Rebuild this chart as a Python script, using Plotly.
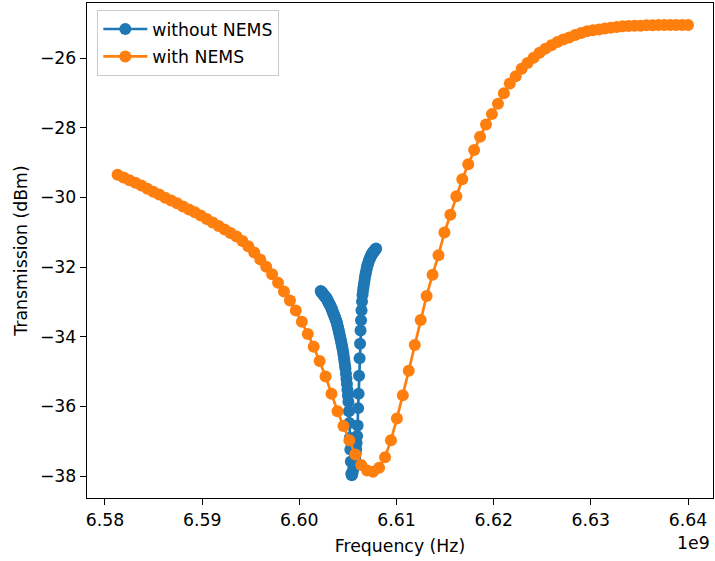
import plotly.graph_objects as go

# Frequencies in units of 1e9 Hz (GHz)
freq_without = [
    6.60220, 6.60225, 6.60230, 6.60235, 6.60240, 6.60245, 6.60250, 6.60255, 6.60260, 6.60265,
    6.60270, 6.60275, 6.60280, 6.60285, 6.60290, 6.60295, 6.60300, 6.60305, 6.60310, 6.60315,
    6.60320, 6.60325, 6.60330, 6.60335, 6.60340, 6.60345, 6.60350, 6.60355, 6.60360, 6.60365,
    6.60370, 6.60375, 6.60380, 6.60385, 6.60390, 6.60395, 6.60400, 6.60405, 6.60410, 6.60415,
    6.60420, 6.60425, 6.60430, 6.60435, 6.60440, 6.60445, 6.60450, 6.60455, 6.60460, 6.60465,
    6.60470, 6.60475, 6.60480, 6.60485, 6.60490, 6.60495, 6.60500, 6.60505, 6.60510, 6.60515,
    6.60520, 6.60525, 6.60530, 6.60535, 6.60540, 6.60545, 6.60550, 6.60555, 6.60560, 6.60565,
    6.60570, 6.60575, 6.60580, 6.60585, 6.60590, 6.60595, 6.60600, 6.60605, 6.60610, 6.60615,
    6.60620, 6.60625, 6.60630, 6.60635, 6.60640, 6.60645, 6.60650, 6.60655, 6.60660, 6.60665,
    6.60670, 6.60675, 6.60680, 6.60685, 6.60690, 6.60695, 6.60700, 6.60705, 6.60710, 6.60715,
    6.60720, 6.60725, 6.60730, 6.60735, 6.60740, 6.60745, 6.60750, 6.60755, 6.60760, 6.60765,
    6.60770, 6.60775, 6.60780, 6.60785, 6.60790,
]
trans_without = [
    -32.69, -32.71, -32.73, -32.74, -32.76, -32.78, -32.80, -32.81, -32.83, -32.85,
    -32.86, -32.88, -32.90, -32.92, -32.95, -32.98, -33.01, -33.04, -33.06, -33.09,
    -33.12, -33.15, -33.18, -33.21, -33.25, -33.29, -33.33, -33.36, -33.40, -33.43,
    -33.47, -33.51, -33.55, -33.59, -33.65, -33.71, -33.76, -33.82, -33.88, -33.94,
    -34.01, -34.08, -34.13, -34.21, -34.28, -34.35, -34.43, -34.52, -34.62, -34.72,
    -34.82, -34.91, -35.06, -35.21, -35.36, -35.52, -35.69, -35.87, -36.14, -36.48,
    -36.90, -37.24, -37.58, -37.93, -37.98, -37.94, -37.87, -37.80, -37.73, -37.66,
    -37.58, -37.47, -37.35, -37.23, -37.05, -36.85, -36.55, -36.05, -35.64, -35.12,
    -34.62, -34.20, -33.82, -33.53, -33.24, -32.99, -32.80, -32.69, -32.59, -32.49,
    -32.40, -32.30, -32.23, -32.16, -32.09, -32.01, -31.97, -31.92, -31.88, -31.83,
    -31.78, -31.76, -31.73, -31.70, -31.67, -31.64, -31.61, -31.60, -31.58, -31.56,
    -31.54, -31.52, -31.50, -31.49, -31.47,
]

freq_with = [
    6.58130, 6.58191, 6.58252, 6.58313, 6.58375, 6.58436, 6.58497, 6.58558, 6.58619, 6.58680,
    6.58742, 6.58803, 6.58864, 6.58925, 6.58986, 6.59047, 6.59108, 6.59170, 6.59231, 6.59292,
    6.59353, 6.59414, 6.59475, 6.59536, 6.59598, 6.59659, 6.59720, 6.59781, 6.59842, 6.59903,
    6.59964, 6.60026, 6.60087, 6.60148, 6.60209, 6.60270, 6.60331, 6.60393, 6.60454, 6.60515,
    6.60576, 6.60637, 6.60698, 6.60759, 6.60821, 6.60882, 6.60943, 6.61004, 6.61065, 6.61126,
    6.61188, 6.61249, 6.61310, 6.61371, 6.61432, 6.61493, 6.61554, 6.61616, 6.61677, 6.61738,
    6.61799, 6.61860, 6.61921, 6.61982, 6.62044, 6.62105, 6.62166, 6.62227, 6.62288, 6.62349,
    6.62411, 6.62472, 6.62533, 6.62594, 6.62655, 6.62716, 6.62777, 6.62839, 6.62900, 6.62961,
    6.63022, 6.63083, 6.63144, 6.63205, 6.63267, 6.63328, 6.63389, 6.63450, 6.63511, 6.63572,
    6.63634, 6.63695, 6.63756, 6.63817, 6.63878, 6.63939, 6.64000,
]
trans_with = [
    -29.35, -29.43, -29.51, -29.58, -29.66, -29.75, -29.84, -29.92, -30.01, -30.09,
    -30.17, -30.26, -30.35, -30.43, -30.52, -30.62, -30.72, -30.82, -30.92, -31.02,
    -31.12, -31.25, -31.40, -31.58, -31.78, -31.99, -32.21, -32.45, -32.70, -32.96,
    -33.25, -33.57, -33.92, -34.29, -34.70, -35.14, -35.64, -36.14, -36.56, -36.97,
    -37.38, -37.68, -37.84, -37.88, -37.76, -37.46, -36.97, -36.35, -35.68, -34.98,
    -34.24, -33.52, -32.83, -32.22, -31.66, -31.01, -30.50, -29.97, -29.48, -29.05,
    -28.64, -28.26, -27.91, -27.61, -27.31, -27.01, -26.73, -26.52, -26.31, -26.14,
    -25.99, -25.85, -25.73, -25.63, -25.54, -25.47, -25.41, -25.34, -25.28, -25.23,
    -25.20, -25.18, -25.15, -25.13, -25.11, -25.09, -25.08, -25.07, -25.07, -25.06,
    -25.06, -25.05, -25.05, -25.05, -25.05, -25.05, -25.05,
]

x_ticks = [6.58, 6.59, 6.60, 6.61, 6.62, 6.63, 6.64]
y_ticks = [-38, -36, -34, -32, -30, -28, -26]

FONT = "DejaVu Sans"
FS = 17.3

fig = go.Figure()
fig.add_trace(go.Scatter(
    x=freq_without, y=trans_without, mode="lines+markers", name="without NEMS",
    line=dict(color="#1f77b4", width=2.7), marker=dict(color="#1f77b4", size=12),
    legendgroup="a",
))
fig.add_trace(go.Scatter(
    x=freq_with, y=trans_with, mode="lines+markers", name="with NEMS",
    line=dict(color="#ff7f0e", width=2.7), marker=dict(color="#ff7f0e", size=12),
    legendgroup="b",
))

axis_common = dict(
    showgrid=False, zeroline=False, showline=True, linecolor="black", linewidth=1.3,
    mirror=True, ticks="outside", ticklen=6, tickwidth=1.3, tickcolor="black",
    tickfont=dict(family=FONT, size=FS, color="black"),
)
fig.update_xaxes(
    range=[6.57815, 6.64257], tickvals=x_ticks, tickformat=".2f",
    title=dict(text="Frequency (Hz)", font=dict(family=FONT, size=FS, color="black"), standoff=10),
    **axis_common,
)
fig.update_yaxes(
    range=[-38.63, -24.42], tickvals=y_ticks,
    title=dict(text="Transmission (dBm)", font=dict(family=FONT, size=FS, color="black"), standoff=7),
    **axis_common,
)
fig.add_annotation(
    text="1e9", xref="paper", yref="paper", x=1.0, y=0, xanchor="right", yanchor="top",
    yshift=-33, xshift=-1, showarrow=False, font=dict(family=FONT, size=FS, color="black"),
)
fig.update_layout(
    width=715, height=561,
    margin=dict(l=87, r=2, t=3, b=63),
    paper_bgcolor="white", plot_bgcolor="white",
    font=dict(family=FONT, size=FS, color="black"),
    legend=dict(
        x=0.016, y=0.986, xanchor="left", yanchor="top",
        bgcolor="rgba(255,255,255,0.8)", bordercolor="#cccccc", borderwidth=1.3,
        font=dict(family=FONT, size=FS, color="black"), tracegroupgap=2,
        itemwidth=44,
    ),
    showlegend=True,
)
fig.write_html(
    "out.html",
    config={"displayModeBar": False},
    post_script="document.body.style.margin='0';document.body.style.padding='0';"
                "document.body.style.overflow='hidden';",
)
